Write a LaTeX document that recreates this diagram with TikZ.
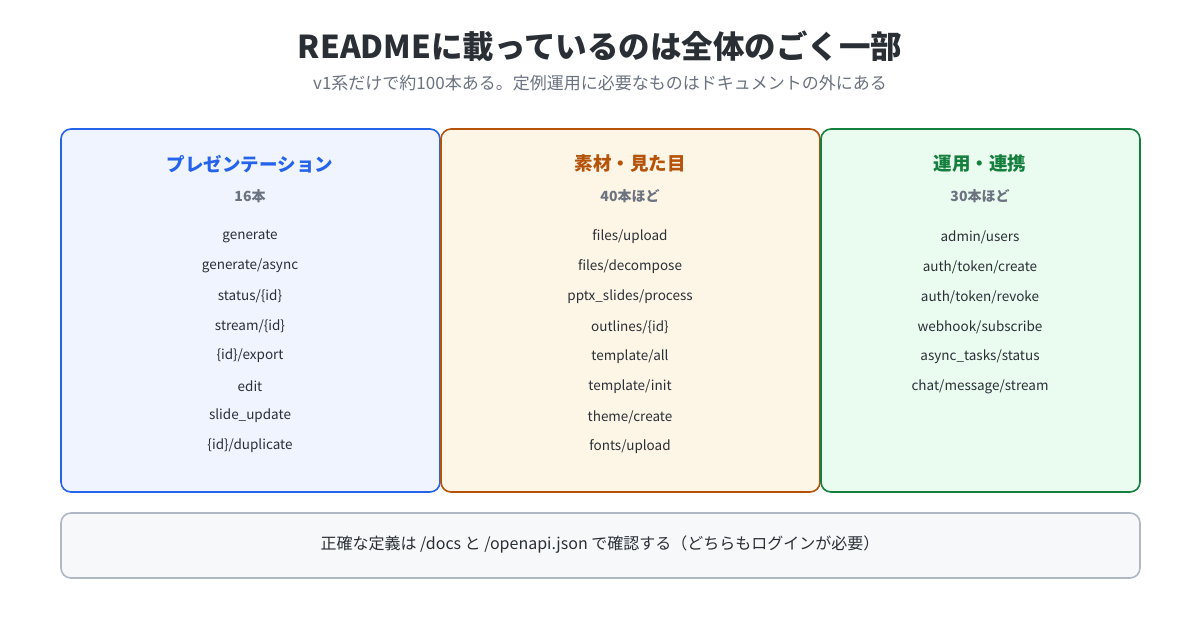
\documentclass[tikz,border=0pt]{standalone}
\usepackage{fontspec}
\setmainfont{Noto Sans CJK JP}
\begin{document}
\begin{tikzpicture}[x=1pt,y=-1pt,
 box/.style={draw, line width=1.6pt, rounded corners=10pt},
 hd/.style={font=\fontsize{18.5}{20}\selectfont\bfseries},
 cnt/.style={font=\fontsize{14}{16}\selectfont\bfseries, text=cgray},
 it/.style={font=\fontsize{13.5}{15}\selectfont, text=ctext}]
\definecolor{ctext}{HTML}{2A2F36}
\definecolor{cgray}{HTML}{6B7280}
\definecolor{cblue}{HTML}{2563EB}\definecolor{fblue}{HTML}{EFF4FE}
\definecolor{corange}{HTML}{B45309}\definecolor{forange}{HTML}{FDF6E7}
\definecolor{cgreen}{HTML}{15803D}\definecolor{fgreen}{HTML}{EAFBF0}
\definecolor{cbot}{HTML}{B0B8C4}\definecolor{fbot}{HTML}{F6F8FA}
\useasboundingbox[fill=white] (0,0) rectangle (1200,630);
\node[font=\fontsize{31.5}{34}\selectfont\bfseries, text=ctext] (title) at (600,46) {READMEに載っているのは全体のごく一部};
\node[font=\fontsize{17}{18}\selectfont, text=cgray] (sub) at (600,83) {v1系だけで約100本ある。定例運用に必要なものはドキュメントの外にある};
\draw[box, draw=cblue, fill=fblue] (61,129) rectangle (440,492);
\draw[box, draw=corange, fill=forange] (441,129) rectangle (820,492);
\draw[box, draw=cgreen, fill=fgreen] (821,129) rectangle (1140,492);
\node[hd, text=cblue] (h1) at (250,164) {プレゼンテーション};
\node[hd, text=corange] (h2) at (630,164) {素材・見た目};
\node[hd, text=cgreen] (h3) at (980,164) {運用・連携};
\node[cnt] (c1) at (250,196) {16本};
\node[cnt] (c2) at (630,196) {40本ほど};
\node[cnt] (c3) at (980,196) {30本ほど};
\foreach \t [count=\i] in {generate,generate/async,status/\{id\},stream/\{id\},\{id\}/export,edit,slide\_update,\{id\}/duplicate}
  \node[it] (a\i) at (250,{236+(\i-1)*30}) {\t};
\foreach \t [count=\i] in {files/upload,files/decompose,pptx\_slides/process,outlines/\{id\},template/all,template/init,theme/create,fonts/upload}
  \node[it] (b\i) at (630,{237+(\i-1)*30}) {\t};
\foreach \t [count=\i] in {admin/users,auth/token/create,auth/token/revoke,webhook/subscribe,async\_tasks/status,chat/message/stream}
  \node[it] (d\i) at (980,{237+(\i-1)*30}) {\t};
\draw[box, draw=cbot, fill=fbot] (61,513) rectangle (1140,578);
\node[font=\fontsize{16}{18}\selectfont, text=ctext] (note) at (600,545) {正確な定義は /docs と /openapi.json で確認する（どちらもログインが必要）};
\end{tikzpicture}
\end{document}
